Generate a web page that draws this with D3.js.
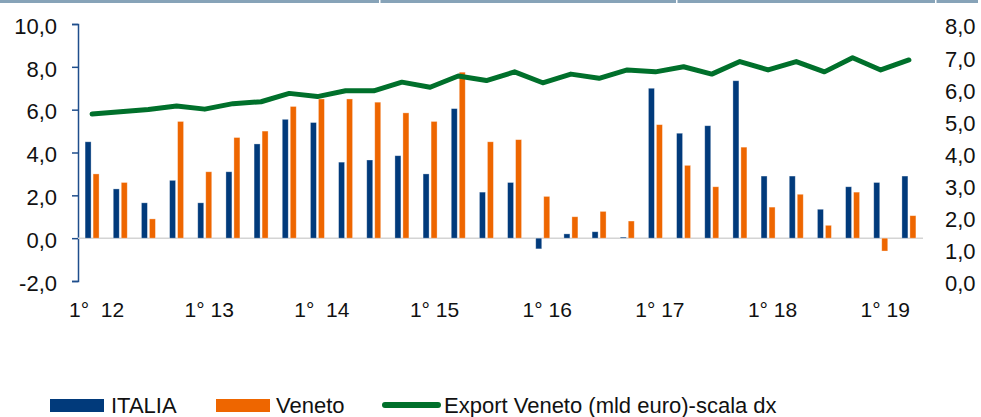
<!DOCTYPE html>
<html>
<head>
<meta charset="utf-8">
<script src="https://cdn.jsdelivr.net/npm/d3@7"></script>
<style>
  body { margin: 0; background: #fff; }
  text { font-family: "Liberation Sans", Arial, sans-serif; fill: #111; }
</style>
</head>
<body>
<div id="my_dataviz"></div>
<script>
// categories: quarters from 1° 2012 to 2° 2019
var quarters = ["I-12","II-12","III-12","IV-12","I-13","II-13","III-13","IV-13",
                "I-14","II-14","III-14","IV-14","I-15","II-15","III-15","IV-15",
                "I-16","II-16","III-16","IV-16","I-17","II-17","III-17","IV-17",
                "I-18","II-18","III-18","IV-18","I-19","II-19"]

// axis labels shown under the first quarter of each year
var yearTicks = ["I-12","I-13","I-14","I-15","I-16","I-17","I-18","I-19"]
var yearLabels = ["1°\u00a0\u00a012","1° 13","1°\u00a0\u00a014","1° 15","1° 16","1° 17","1° 18","1° 19"]

// series (left scale, %)
var italia = [4.5, 2.3, 1.65, 2.7, 1.65, 3.1, 4.4, 5.55, 5.4, 3.55, 3.65, 3.85, 3.0, 6.05, 2.15, 2.6,
              -0.5, 0.2, 0.3, 0.05, 7.0, 4.9, 5.25, 7.35, 2.9, 2.9, 1.35, 2.4, 2.6, 2.9]
var veneto = [3.0, 2.6, 0.9, 5.45, 3.1, 4.7, 5.0, 6.15, 6.5, 6.5, 6.35, 5.85, 5.45, 7.75, 4.5, 4.6,
              1.95, 1.0, 1.25, 0.8, 5.3, 3.4, 2.4, 4.25, 1.45, 2.05, 0.6, 2.15, -0.6, 1.05]
// export Veneto, mld euro (right scale)
var exportVeneto = [5.2, 5.27, 5.34, 5.45, 5.35, 5.52, 5.58, 5.84, 5.74, 5.92, 5.92, 6.19, 6.03, 6.38, 6.24, 6.51,
                    6.17, 6.44, 6.31, 6.57, 6.51, 6.67, 6.44, 6.83, 6.57, 6.83, 6.51, 6.95, 6.57, 6.88]

var leftTicks = [-2, 0, 2, 4, 6, 8, 10]
var rightTicks = [0, 1, 2, 3, 4, 5, 6, 7, 8]

var width = 981, height = 417
var plot = {left: 78, right: 923, top: 24, bottom: 281}

var colors = {ITALIA: "#013a7b", Veneto: "#ee6600", line: "#00702b"}

var svg = d3.select("#my_dataviz")
  .append("svg")
    .attr("width", width)
    .attr("height", height)

// strip of the frame above the chart
svg.append("rect")
  .attr("x", 0).attr("y", 0)
  .attr("width", 978).attr("height", 3)
  .style("fill", "#87a3b8")
svg.selectAll("notch")
  .data([379, 676, 935]).enter()
  .append("rect")
    .attr("x", function(d) { return d; })
    .attr("y", 0).attr("width", 1.5).attr("height", 3)
    .style("fill", "#fff")

// scales
var x = d3.scaleBand()
  .domain(quarters)
  .range([plot.left, plot.right])

var series = ["ITALIA", "Veneto"]
var xSub = d3.scaleBand()
  .domain(series)
  .range([-7, 7])
  .paddingInner(0.25)

var y = d3.scaleLinear()
  .domain([-2, 10])
  .range([plot.bottom, plot.top])

var y2 = d3.scaleLinear()
  .domain([0, 8])
  .range([plot.bottom, plot.top])

// italian style: comma decimal, plain hyphen for negatives
var fmt = function(d) { return d3.format(".1f")(d).replace(".", ",").replace("\u2212", "-") }

// left axis
var gLeft = svg.append("g")
  .attr("transform", "translate(" + plot.left + ",0)")
  .call(d3.axisLeft(y).tickValues(leftTicks).tickSize(6).tickPadding(15).tickFormat(fmt))
gLeft.select(".domain").attr("stroke", "#1f4e8c").attr("stroke-width", 1.5)
gLeft.selectAll(".tick line").attr("stroke", "#1f4e8c").attr("stroke-width", 1.5)
gLeft.selectAll(".tick text")
  .style("font-size", "22px")
  .attr("dy", "0.42em")
  .style("fill", "#111")

// right axis (labels only)
var gRight = svg.append("g")
  .attr("transform", "translate(" + (plot.right + 22) + ",0)")
  .call(d3.axisRight(y2).tickValues(rightTicks).tickSize(0).tickPadding(0).tickFormat(fmt))
gRight.select(".domain").remove()
gRight.selectAll(".tick text")
  .style("font-size", "22px")
  .attr("dy", "0.45em")
  .style("fill", "#111")

// zero line
svg.append("line")
  .attr("x1", plot.left).attr("x2", plot.right)
  .attr("y1", y(0)).attr("y2", y(0))
  .style("stroke", "#d4d4d4")
  .style("stroke-width", 1.5)

// bars
var data = quarters.map(function(q, i) {
  return {q: q, ITALIA: italia[i], Veneto: veneto[i]}
})

svg.selectAll("group")
  .data(data).enter()
  .append("g")
    .attr("transform", function(d) { return "translate(" + (x(d.q) + x.bandwidth() / 2) + ",0)" })
  .selectAll("rect")
  .data(function(d) { return series.map(function(s) { return {key: s, value: d[s]} }) })
  .enter()
  .append("rect")
    .attr("x", function(d) { return xSub(d.key) })
    .attr("width", xSub.bandwidth())
    .attr("y", function(d) { return y(Math.max(0, d.value)) })
    .attr("height", function(d) { return Math.abs(y(d.value) - y(0)) })
    .style("fill", function(d) { return colors[d.key] })
    .style("stroke", "rgba(255,255,255,0.45)")
    .style("stroke-width", 0.75)

// export line on the right scale
var line = d3.line()
  .x(function(d, i) { return x(quarters[i]) + x.bandwidth() / 2 })
  .y(function(d) { return y2(d) })

svg.append("path")
  .datum(exportVeneto)
  .attr("d", line)
  .style("fill", "none")
  .style("stroke", colors.line)
  .style("stroke-width", 5)
  .style("stroke-linejoin", "round")
  .style("stroke-linecap", "round")

// year labels
svg.selectAll("yearLabel")
  .data(yearTicks).enter()
  .append("text")
    .attr("x", function(d) { return x(d) + x.bandwidth() / 2 + 4.5 })
    .attr("y", 317)
    .style("text-anchor", "middle")
    .style("font-size", "21px")
    .text(function(d, i) { return yearLabels[i] })

// legend
var legend = svg.append("g")
legend.append("rect")
  .attr("x", 50).attr("y", 399).attr("width", 54).attr("height", 13)
  .style("fill", colors.ITALIA)
legend.append("text")
  .attr("x", 111).attr("y", 413)
  .style("font-size", "22px")
  .text("ITALIA")
legend.append("rect")
  .attr("x", 216).attr("y", 399).attr("width", 54).attr("height", 13)
  .style("fill", colors.Veneto)
legend.append("text")
  .attr("x", 276).attr("y", 413)
  .style("font-size", "22px")
  .text("Veneto")
legend.append("line")
  .attr("x1", 385).attr("x2", 438)
  .attr("y1", 405).attr("y2", 405)
  .style("stroke", colors.line)
  .style("stroke-width", 6)
  .style("stroke-linecap", "round")
legend.append("text")
  .attr("x", 444).attr("y", 413)
  .style("font-size", "22px")
  .text("Export Veneto (mld euro)-scala dx")
</script>
</body>
</html>
